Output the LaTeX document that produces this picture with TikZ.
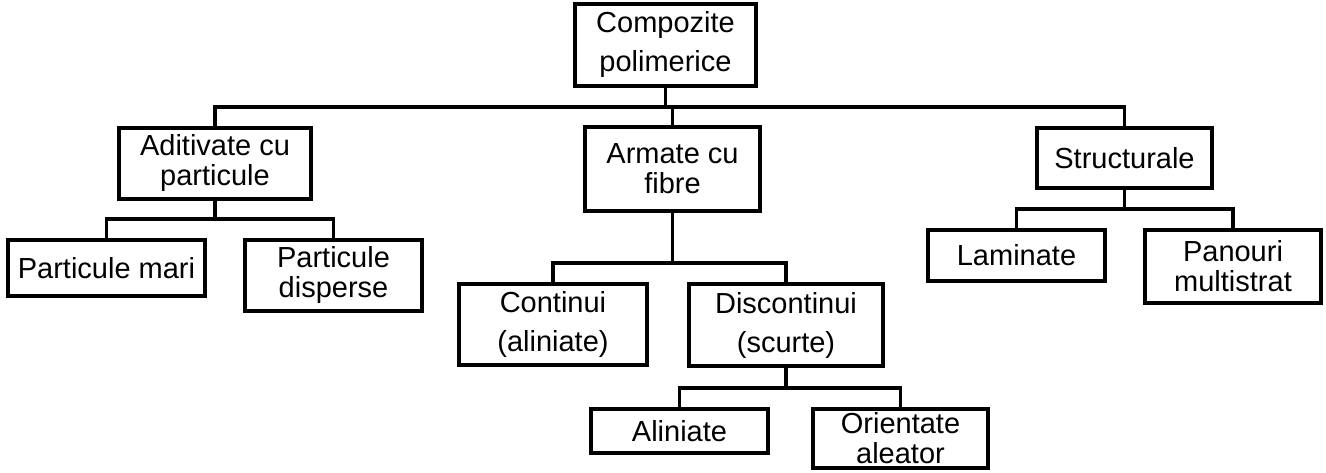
\documentclass[tikz,border=0pt]{standalone}
\usepackage{fontspec}
\setmainfont{Liberation Sans}
\begin{document}
\begin{tikzpicture}[x=1pt,y=-1pt]

        \useasboundingbox (0,0) rectangle (1326,473);

        \tikzset{
          box/.style={draw, line width=3.8pt, rectangle, align=center, inner sep=1pt,
            font=\fontsize{29}{30}\selectfont},
          link/.style={draw, line width=3.2pt}
        }

        % boxes
        \node[box, minimum width=181pt, minimum height=82pt] (top)    at (665.5,45)   {Compozite\\[9pt]polimerice};
        \node[box, minimum width=192pt, minimum height=71pt] (adit)   at (215,163.5)  {Aditivate cu\\particule};
        \node[box, minimum width=175pt, minimum height=84pt] (armate) at (672.5,169)  {Armate cu\\fibre};
        \node[box, minimum width=175pt, minimum height=60pt] (struct) at (1124.5,158) {Structurale};
        \node[box, minimum width=197pt, minimum height=56pt] (pmari)  at (106.5,268)  {Particule mari};
        \node[box, minimum width=177pt, minimum height=71pt] (pdisp)  at (333.5,275.5) {Particule\\disperse};
        \node[box, minimum width=188pt, minimum height=81pt] (cont)   at (553,324.5)  {Continui\\[9pt](aliniate)};
        \node[box, minimum width=194pt, minimum height=82pt] (disc)   at (786,325)    {Discontinui\\[9pt](scurte)};
        \node[box, minimum width=177pt, minimum height=44pt] (alin)   at (679.5,431)  {Aliniate};
        \node[box, minimum width=175pt, minimum height=59pt] (orient) at (900.5,438.5) {Orientate\\aleator};
        \node[box, minimum width=177pt, minimum height=51pt] (lamin)  at (1016.5,255.5) {Laminate};
        \node[box, minimum width=176pt, minimum height=73pt] (panou)  at (1233,266.5) {Panouri\\multistrat};

        % bus levels
        \coordinate (b0) at (0,107);
        \coordinate (b1) at (0,219);
        \coordinate (b2) at (0,263);
        \coordinate (b3) at (0,388);
        \coordinate (b4) at (0,209);

        % connectors
        \path[link] (top.south) -- (top.south |- b0);
        \path[link] (adit.north) |- (struct.north |- b0) -- (struct.north);
        \path[link] (armate.north) -- (armate.north |- b0);

        \path[link] (adit.south) -- (adit.south |- b1);
        \path[link] (pmari.north) |- (pdisp.north |- b1) -- (pdisp.north);

        \path[link] (armate.south) -- (armate.south |- b2);
        \path[link] (cont.north) |- (disc.north |- b2) -- (disc.north);

        \path[link] (disc.south) -- (disc.south |- b3);
        \path[link] (alin.north) |- (orient.north |- b3) -- (orient.north);

        \path[link] (struct.south) -- (struct.south |- b4);
        \path[link] (lamin.north) |- (panou.north |- b4) -- (panou.north);

      \end{tikzpicture}
\end{document}
